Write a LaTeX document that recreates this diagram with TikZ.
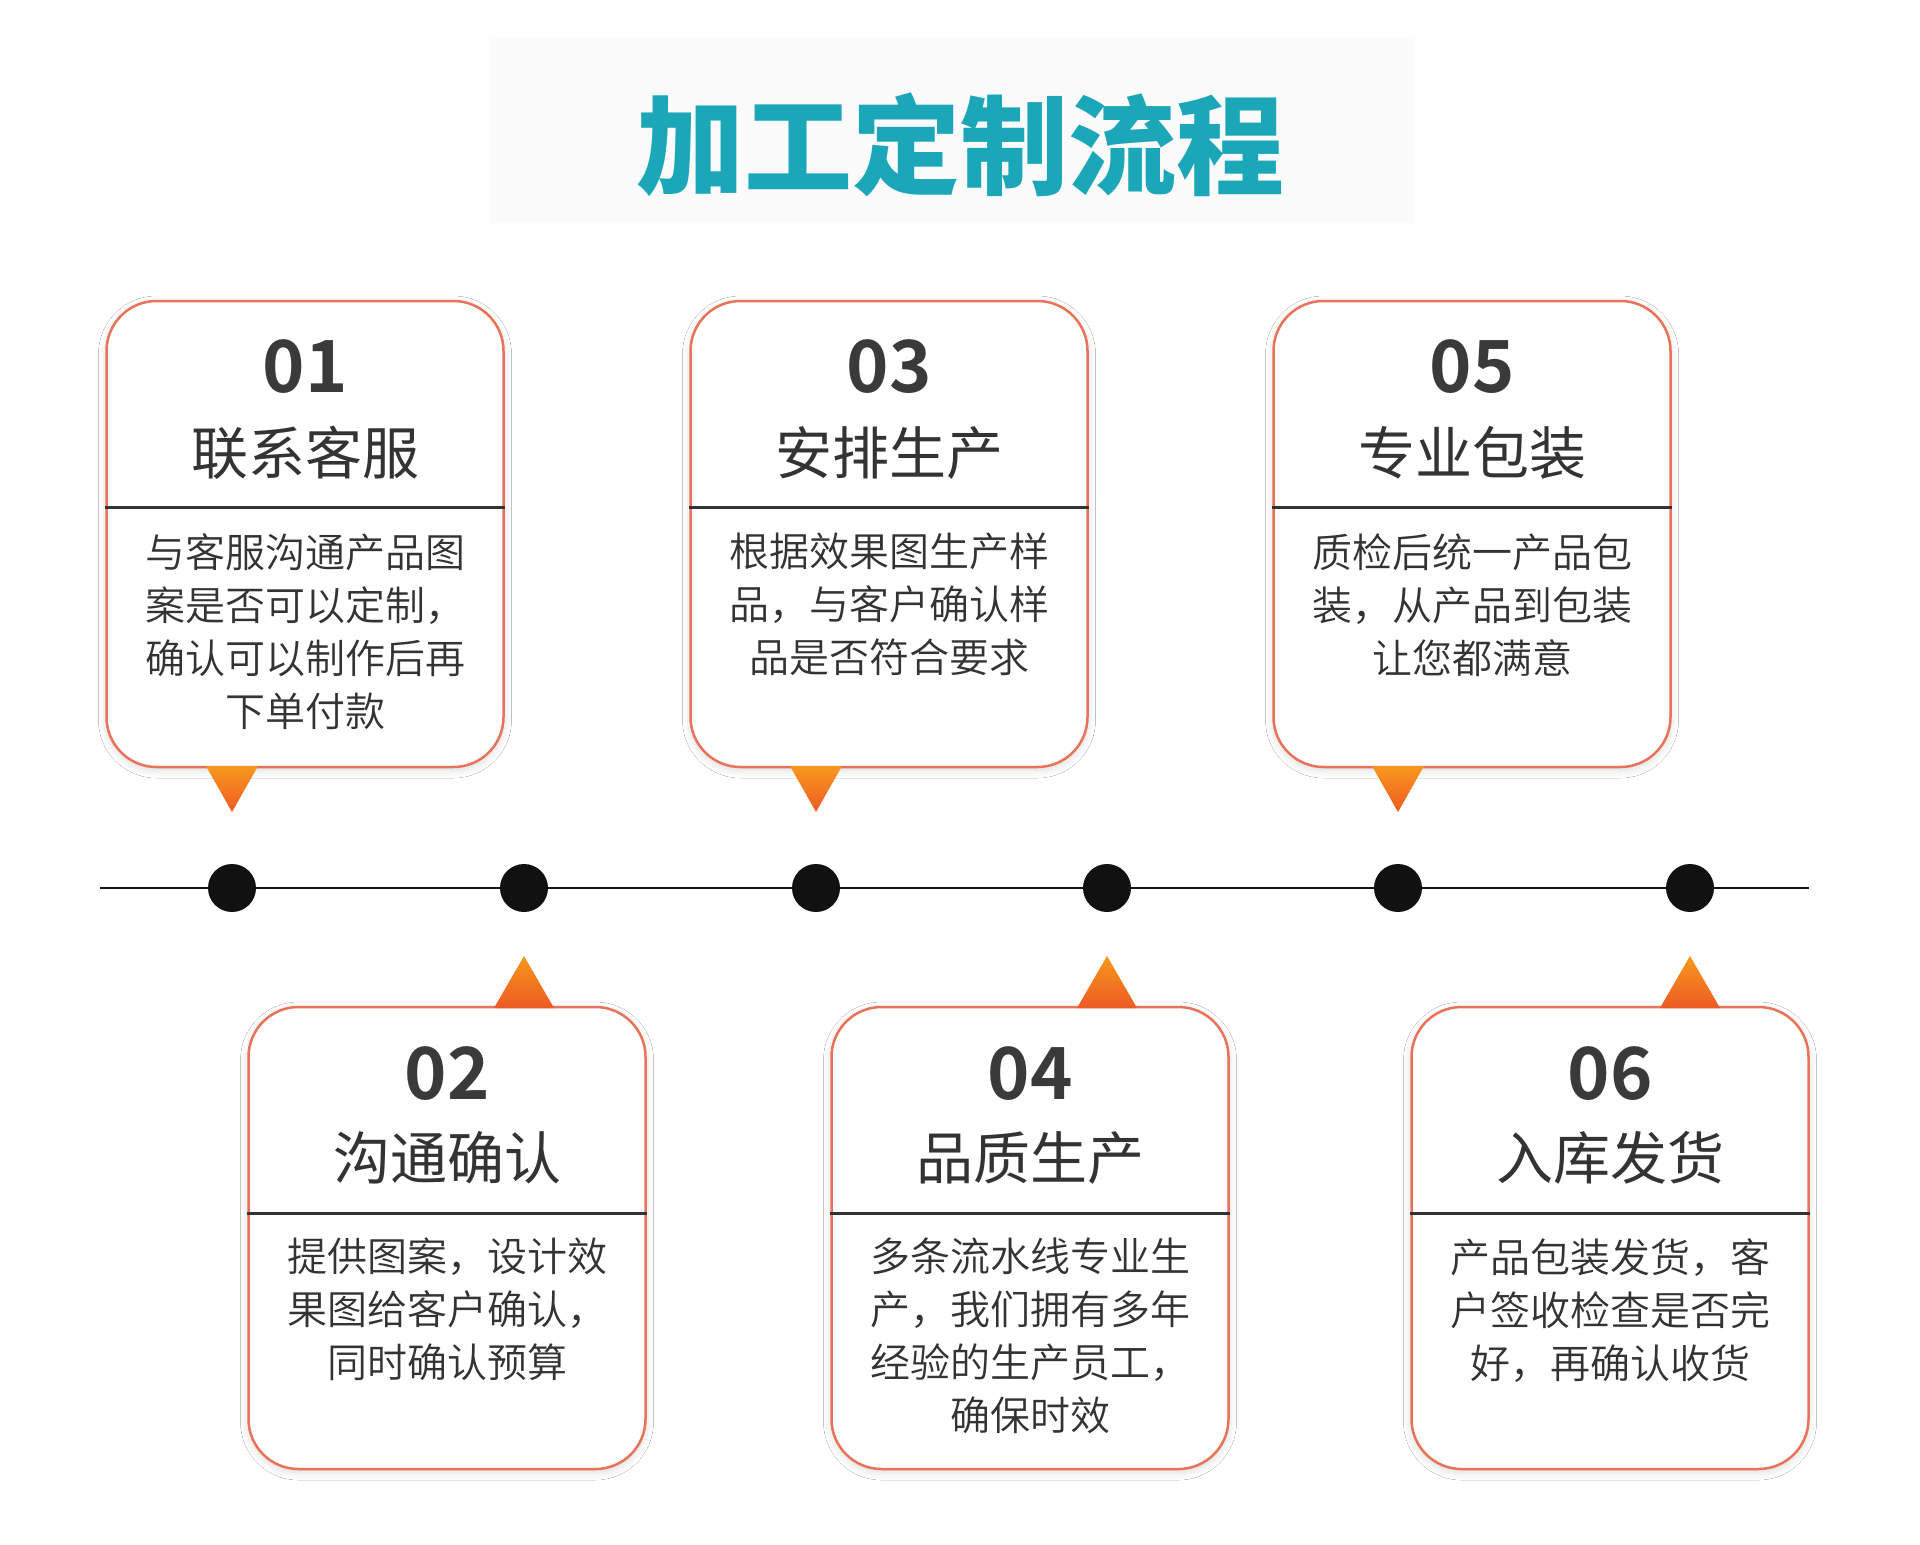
\documentclass[tikz,border=0pt]{standalone}
\usepackage{fontspec}
\setmainfont{Noto Sans CJK SC}[BoldFont={Noto Sans CJK SC Bold}]
\newfontfamily\titlefont{Noto Sans CJK SC Black}
\newfontfamily\lightfont{Noto Sans CJK SC DemiLight}
\usetikzlibrary{shadows.blur}
\definecolor{teal}{HTML}{1CA7B9}
\definecolor{cardline}{HTML}{E8735A}
\definecolor{numgray}{HTML}{3A3A3A}
\definecolor{txt}{HTML}{333333}
\definecolor{triA}{HTML}{F8981D}
\definecolor{triB}{HTML}{EE5A24}
\definecolor{dotblack}{HTML}{111111}
\begin{document}
\begin{tikzpicture}[x=1pt,y=-1pt,
  card/.style={draw=cardline, line width=2.5pt, rounded corners=50pt, fill=white,
    minimum width=397pt, inner sep=0pt,
    blur shadow={shadow xshift=0pt, shadow yshift=-3pt, shadow blur radius=8pt, shadow opacity=15}},
  topcard/.style={card, minimum height=466pt},
  botcard/.style={card, minimum height=462pt},
  divline/.style={draw=txt, line width=3pt},
  num/.style={font=\fontsize{72}{72}\selectfont\bfseries, text=numgray, inner sep=0pt},
  head/.style={font=\fontsize{57}{57}\selectfont, text=txt, inner sep=0pt},
  body/.style={font=\lightfont\fontsize{40}{53}\selectfont, text=txt, align=center, inner sep=0pt, anchor=north},
  dot/.style={circle, fill=dotblack, minimum size=48pt, inner sep=0pt},
  tline/.style={draw=dotblack, line width=2.5pt},
  tri/.style={top color=triA, bottom color=triB, draw=none},
  ttl/.style={font=\titlefont\fontsize{108}{108}\selectfont, text=teal, inner sep=0pt}
]
\useasboundingbox (0,0) rectangle (1920,1545);
\fill[white] (0,0) rectangle (1920,1545);
% title
\fill[black!1.5] (490,37) rectangle (1414,223);
\node[ttl] (title) at (960,145) {加工定制流程};
% timeline
\coordinate (tl) at (100,888);
\coordinate (tr) at (1809,888);
\draw[tline] (tl) -- (tr);
\node[dot] (d1) at (232,888) {};
\node[dot] (d2) at (524,888) {};
\node[dot] (d3) at (816,888) {};
\node[dot] (d4) at (1107,888) {};
\node[dot] (d5) at (1398,888) {};
\node[dot] (d6) at (1690,888) {};
% top cards
\node[topcard] (c1) at (305,534) {};
\node[topcard] (c3) at (889,534) {};
\node[topcard] (c5) at (1472,534) {};
\foreach \c in {c1,c3,c5}{
  \draw[divline] (\c.west |- 0,507) -- (\c.east |- 0,507);
}
\foreach \x in {232,816,1398}{
  \shade[tri] ({\x-26},766) -- ({\x+26},766) -- (\x,812) -- cycle;
}
% bottom cards
\node[botcard] (c2) at (447,1238) {};
\node[botcard] (c4) at (1030,1238) {};
\node[botcard] (c6) at (1610,1238) {};
\foreach \c in {c2,c4,c6}{
  \draw[divline] (\c.west |- 0,1213) -- (\c.east |- 0,1213);
}
\foreach \x in {524,1107,1690}{
  \shade[tri] (\x,956) -- ({\x+30},1008) -- ({\x-30},1008) -- cycle;
}
% texts top
\node[num] (n1) at (305,367) {01};
\node[head] (h1) at (305,453) {联系客服};
\node[body] (b1) at (305,533) {与客服沟通产品图\\案是否可以定制，\\确认可以制作后再\\下单付款};
\node[num] (n3) at (889,367) {03};
\node[head] (h3) at (889,453) {安排生产};
\node[body] (b3) at (889,533) {根据效果图生产样\\品，与客户确认样\\品是否符合要求};
\node[num] (n5) at (1472,367) {05};
\node[head] (h5) at (1472,453) {专业包装};
\node[body] (b5) at (1472,533) {质检后统一产品包\\装，从产品到包装\\让您都满意};
% texts bottom
\node[num] (n2) at (447,1074) {02};
\node[head] (h2) at (447,1158) {沟通确认};
\node[body] (b2) at (447,1238) {提供图案，设计效\\果图给客户确认，\\同时确认预算};
\node[num] (n4) at (1030,1074) {04};
\node[head] (h4) at (1030,1158) {品质生产};
\node[body] (b4) at (1030,1238) {多条流水线专业生\\产，我们拥有多年\\经验的生产员工，\\确保时效};
\node[num] (n6) at (1610,1074) {06};
\node[head] (h6) at (1610,1158) {入库发货};
\node[body] (b6) at (1610,1238) {产品包装发货，客\\户签收检查是否完\\好，再确认收货};
\end{tikzpicture}
\end{document}
